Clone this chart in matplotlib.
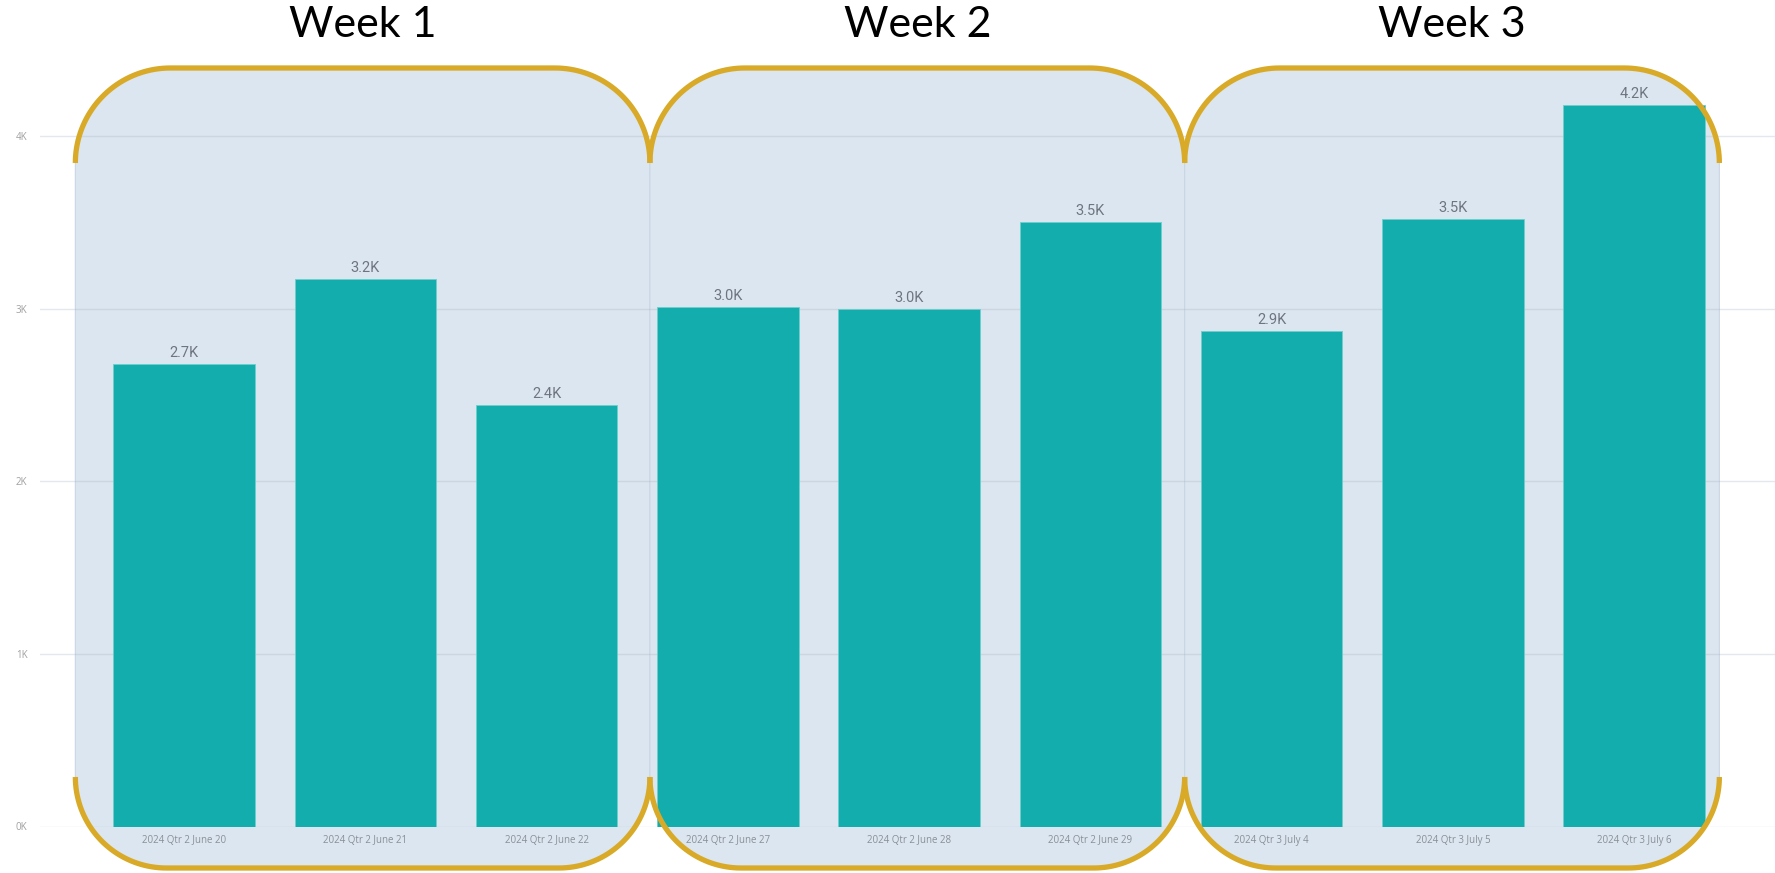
import numpy as np
import matplotlib
matplotlib.use("Agg")
import matplotlib.pyplot as plt
from matplotlib.patches import PathPatch
from matplotlib.path import Path

days = ["2024 Qtr 2 June 20", "2024 Qtr 2 June 21", "2024 Qtr 2 June 22",
        "2024 Qtr 2 June 27", "2024 Qtr 2 June 28", "2024 Qtr 2 June 29",
        "2024 Qtr 3 July 4", "2024 Qtr 3 July 5", "2024 Qtr 3 July 6"]
values = [2680, 3170, 2440, 3010, 3000, 3500, 2870, 3520, 4180]
weeks = ["Week 1", "Week 2", "Week 3"]
y_ticks = [0, 1000, 2000, 3000, 4000]
y_tick_labels = ["0K", "1K", "2K", "3K", "4K"]

W, H = 1775, 873
bar_color = "#12ADAC"
fill_color = "#DCE6F0"
gold = "#D8AA27"

fig = plt.figure(figsize=(W / 100, H / 100), dpi=100)

# background layer (week panels), pixel coords with y going down
bg = fig.add_axes([0, 0, 1, 1], zorder=0)
bg.set_xlim(0, W)
bg.set_ylim(H, 0)
bg.axis("off")

ax = fig.add_axes([40 / W, (H - 826.5) / H, (W - 40) / W, (826.5 - 67.1) / H], zorder=1)
ax.patch.set_alpha(0)
x = np.arange(len(values))
bars = ax.bar(x, values, width=0.78, color=bar_color, edgecolor="#6CCFCC", linewidth=0.6, zorder=3)
ax.set_xlim(-0.795, 8.777)
ax.set_ylim(0, 4400)
ax.set_yticks(y_ticks)
ax.set_yticklabels(y_tick_labels)
ax.set_xticks(x)
ax.set_xticklabels(days)
ax.grid(axis="y", color="#A8B2BE", alpha=0.3, linewidth=1, zorder=0)
ax.set_axisbelow(True)
for s in ax.spines.values():
    s.set_visible(False)
ax.tick_params(axis="y", length=0, pad=9, labelsize=7, labelcolor="#A0A0A0")
ax.tick_params(axis="x", length=0, pad=6, labelsize=7, labelcolor="#8A8F96")
for lab in ax.get_xticklabels() + ax.get_yticklabels():
    lab.set_family("Open Sans")
ax.bar_label(bars, labels=[f"{v / 1000:.1f}K" for v in values], padding=3,
             fontsize=10.5, color="#6E7580", family="Roboto")

# top layer for the gold brackets and week titles
top = fig.add_axes([0, 0, 1, 1], zorder=2)
top.set_xlim(0, W)
top.set_ylim(H, 0)
top.axis("off")

week_edges = [-0.6, 2.57, 5.52, 8.47]
edges_px = [ax.transData.transform((e, 0))[0] for e in week_edges]
y_top, y_bot = 68, 868
r_top, r_bot = 95, 91


def arc(cx, cy, r, a0, a1):
    t = np.radians(np.linspace(a0, a1, 40))
    return np.column_stack([cx + r * np.cos(t), cy - r * np.sin(t)])


for i in range(3):
    L, R = edges_px[i], edges_px[i + 1]
    outline = np.vstack([
        arc(L + r_top, y_top + r_top, r_top, 180, 90),
        arc(R - r_top, y_top + r_top, r_top, 90, 0),
        arc(R - r_bot, y_bot - r_bot, r_bot, 0, -90),
        arc(L + r_bot, y_bot - r_bot, r_bot, -90, -180),
    ])
    bg.add_patch(PathPatch(Path(np.vstack([outline, outline[:1]])), facecolor=fill_color,
                           edgecolor="#C9D6E5", linewidth=0.8))

    top_pts = np.vstack([arc(L + r_top, y_top + r_top, r_top, 180, 90),
                         arc(R - r_top, y_top + r_top, r_top, 90, 0)])
    bot_pts = np.vstack([arc(L + r_bot, y_bot - r_bot, r_bot, 180, 270),
                         arc(R - r_bot, y_bot - r_bot, r_bot, 270, 360)])
    top.plot(top_pts[:, 0], top_pts[:, 1], color=gold, linewidth=3.8, solid_capstyle="butt")
    top.plot(bot_pts[:, 0], bot_pts[:, 1], color=gold, linewidth=3.8, solid_capstyle="butt")
    top.text((L + R) / 2, 25, weeks[i], ha="center", va="center", fontsize=31,
             family="Lato", color="black")

fig.savefig("out.png", dpi=100, facecolor="white")
